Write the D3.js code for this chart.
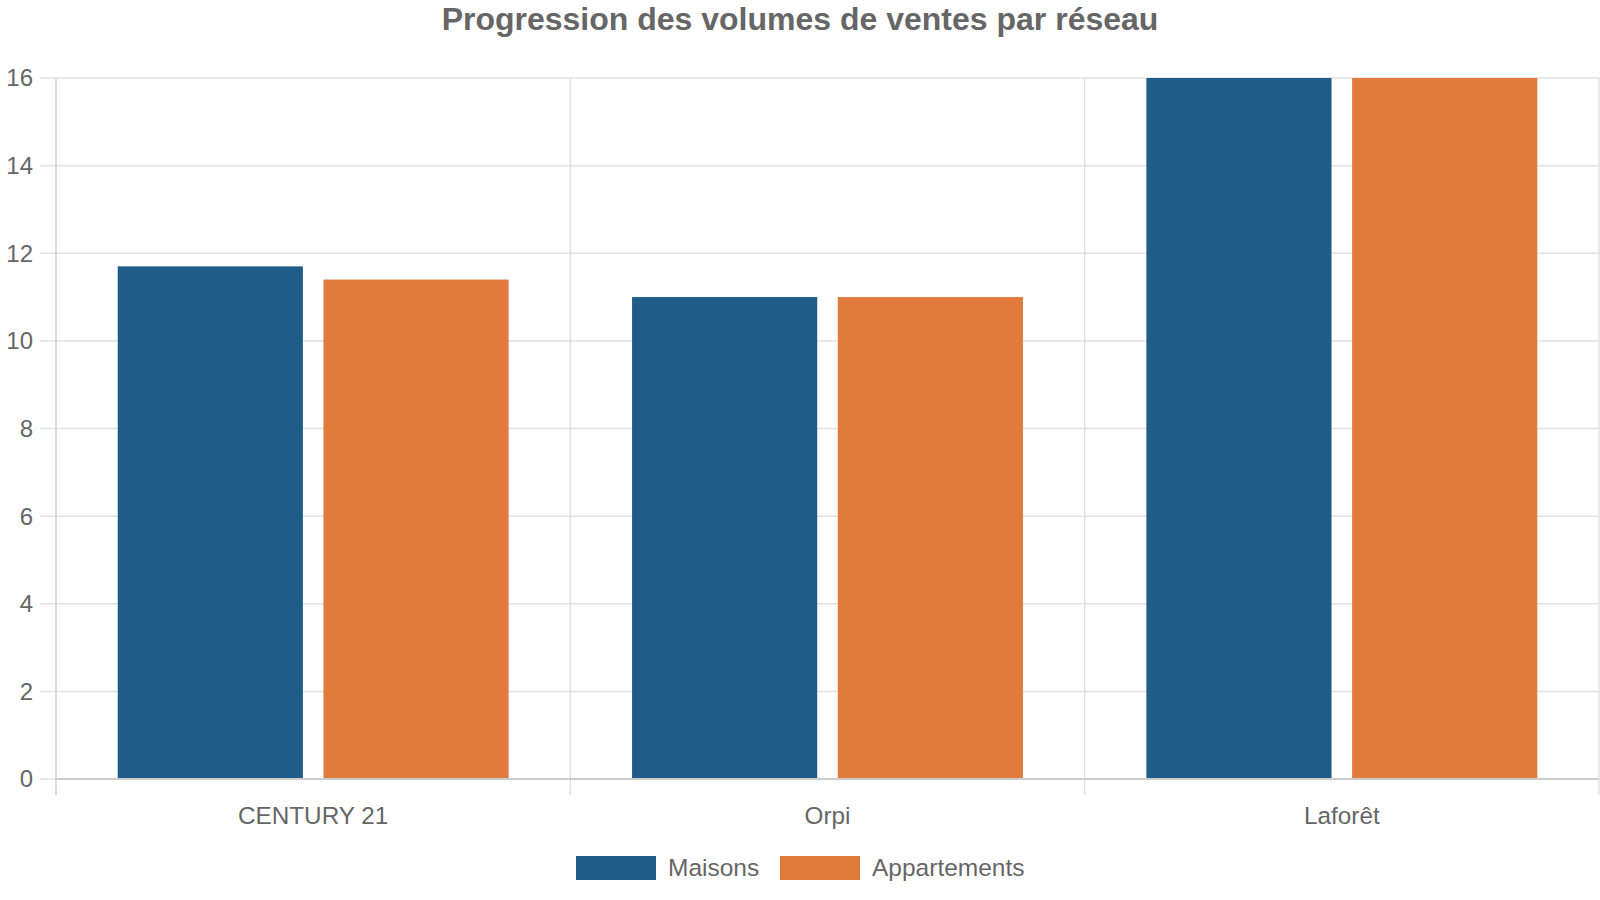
<!DOCTYPE html>
<html>
<head>
<meta charset="utf-8">
<script src="https://cdn.jsdelivr.net/npm/d3@7"></script>
<style>
  body { margin: 0; background: #fff; }
  svg { display: block; font-family: "Liberation Sans", Arial, sans-serif; }
</style>
</head>
<body>
<div id="chart"></div>
<script>
// data
const categories = ["CENTURY 21", "Orpi", "Laforêt"];
const seriesNames = ["Maisons", "Appartements"];
const maisons = [11.7, 11.0, 16];
const appartements = [11.4, 11.0, 16];
const yTicks = [0, 2, 4, 6, 8, 10, 12, 14, 16];

const width = 1600, height = 900;
const margin = { top: 78, right: 1, bottom: 121, left: 56 };
const colors = ["#1f5c87", "#e07b3b"];
const textColor = "#666";

const svg = d3.select("#chart").append("svg")
    .attr("width", width)
    .attr("height", height);

const x = d3.scaleBand()
    .domain(categories)
    .range([margin.left, width - margin.right])
    .paddingInner(0)
    .paddingOuter(0);

const xSub = d3.scaleBand()
    .domain(seriesNames)
    .range([0, x.bandwidth()])
    .paddingInner(0.1)
    .paddingOuter(0.3);

const y = d3.scaleLinear()
    .domain([0, 16])
    .range([height - margin.bottom, margin.top]);

// horizontal grid
svg.append("g")
    .selectAll("line")
    .data(yTicks)
    .join("line")
    .attr("x1", margin.left - 16)
    .attr("x2", width - margin.right)
    .attr("y1", d => y(d))
    .attr("y2", d => y(d))
    .attr("stroke", "#e0e0e0")
    .attr("stroke-width", 1.5);

// vertical band separators
const bounds = categories.map(c => x(c)).concat([x(categories[categories.length - 1]) + x.bandwidth()]);
svg.append("g")
    .selectAll("line")
    .data(bounds)
    .join("line")
    .attr("x1", d => d)
    .attr("x2", d => d)
    .attr("y1", margin.top)
    .attr("y2", height - margin.bottom + 16)
    .attr("stroke", (d, i) => i === 0 ? "#d0d0d0" : "#e0e0e0")
    .attr("stroke-width", 1.5);

// y tick labels
svg.append("g")
    .selectAll("text")
    .data(yTicks)
    .join("text")
    .attr("x", 33)
    .attr("y", d => y(d))
    .attr("dy", "0.35em")
    .attr("text-anchor", "end")
    .style("font-size", "24px")
    .style("fill", textColor)
    .text(d => d);

// bars
const series = [maisons, appartements];
const groups = svg.append("g")
    .selectAll("g")
    .data(categories)
    .join("g")
    .attr("transform", d => `translate(${x(d)},0)`);

groups.selectAll("rect")
    .data((d, i) => seriesNames.map((s, j) => ({ s, v: series[j][i], j })))
    .join("rect")
    .attr("x", d => xSub(d.s))
    .attr("width", xSub.bandwidth())
    .attr("y", d => y(d.v))
    .attr("height", d => y(0) - y(d.v))
    .attr("fill", d => colors[d.j]);

// x axis line
svg.append("line")
    .attr("x1", margin.left)
    .attr("x2", width - margin.right)
    .attr("y1", y(0))
    .attr("y2", y(0))
    .attr("stroke", "#ccc")
    .attr("stroke-width", 2);

// x labels
svg.append("g")
    .selectAll("text")
    .data(categories)
    .join("text")
    .attr("x", d => x(d) + x.bandwidth() / 2)
    .attr("y", 824)
    .attr("text-anchor", "middle")
    .style("font-size", "24.3px")
    .style("fill", textColor)
    .text(d => d);

// title
svg.append("text")
    .attr("x", 800)
    .attr("y", 30)
    .attr("text-anchor", "middle")
    .style("font-size", "32px")
    .style("font-weight", "bold")
    .style("fill", textColor)
    .text("Progression des volumes de ventes par réseau");

// legend
const legend = svg.append("g").attr("transform", "translate(576,856)");
const legendX = [0, 204];
seriesNames.forEach((s, i) => {
    const g = legend.append("g").attr("transform", `translate(${legendX[i]},0)`);
    g.append("rect").attr("width", 80).attr("height", 24).attr("fill", colors[i]);
    g.append("text")
        .attr("x", 92)
        .attr("y", 20)
        .style("font-size", "24.5px")
        .style("fill", textColor)
        .text(s);
});
</script>
</body>
</html>
